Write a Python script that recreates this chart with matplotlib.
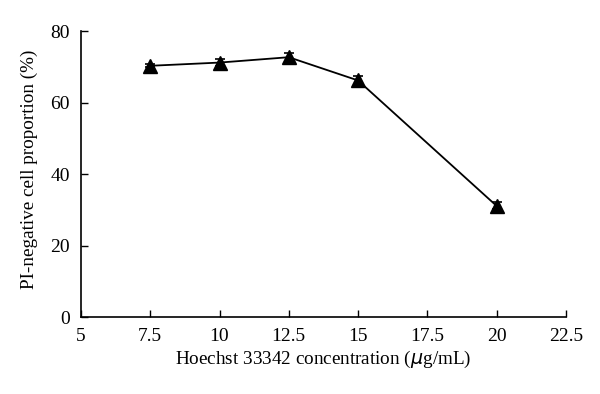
import matplotlib
matplotlib.use("Agg")
import matplotlib.pyplot as plt

concentration = [7.5, 10, 12.5, 15, 20]
pi_negative = [70.3, 71.2, 72.7, 66.2, 31.1]
errors = [0.4, 1.0, 1.3, 1.3, 1.0]
xticks = [5, 7.5, 10, 12.5, 15, 17.5, 20, 22.5]
xtick_labels = ["5", "7.5", "10", "12.5", "15", "17.5", "20", "22.5"]
yticks = [0, 20, 40, 60, 80]

plt.rcParams['font.family'] = ['Liberation Serif', 'DejaVu Serif']

fig = plt.figure(figsize=(6.0, 3.94), dpi=100)
ax = fig.add_axes([0.135, 0.1954, 0.808, 0.7256])

ax.errorbar(concentration, pi_negative, yerr=errors, color='black', lw=1.3,
            marker='^', markersize=10.5, capsize=3.5, elinewidth=1.2, capthick=1.2)

ax.set_xlim(5, 22.5)
ax.set_ylim(0, 80)
ax.set_xticks(xticks)
ax.set_xticklabels(xtick_labels)
ax.set_yticks(yticks)
ax.tick_params(direction='in', length=5, width=1, labelsize=14, colors='black')
ax.tick_params(axis='x', pad=8)
ax.tick_params(axis='y', pad=8)
for s in ['top', 'right']:
    ax.spines[s].set_visible(False)
for s in ['left', 'bottom']:
    ax.spines[s].set_linewidth(1.2)

ax.set_xlabel("Hoechst 33342 concentration ($\\mu$g/mL)", fontsize=13.8)
ax.set_ylabel("PI-negative cell proportion (%)", fontsize=13.8)
ax.xaxis.set_label_coords(0.5, -0.11)
ax.yaxis.set_label_coords(-0.088, 0.515)

fig.savefig("out.png", dpi=100, facecolor='white')
